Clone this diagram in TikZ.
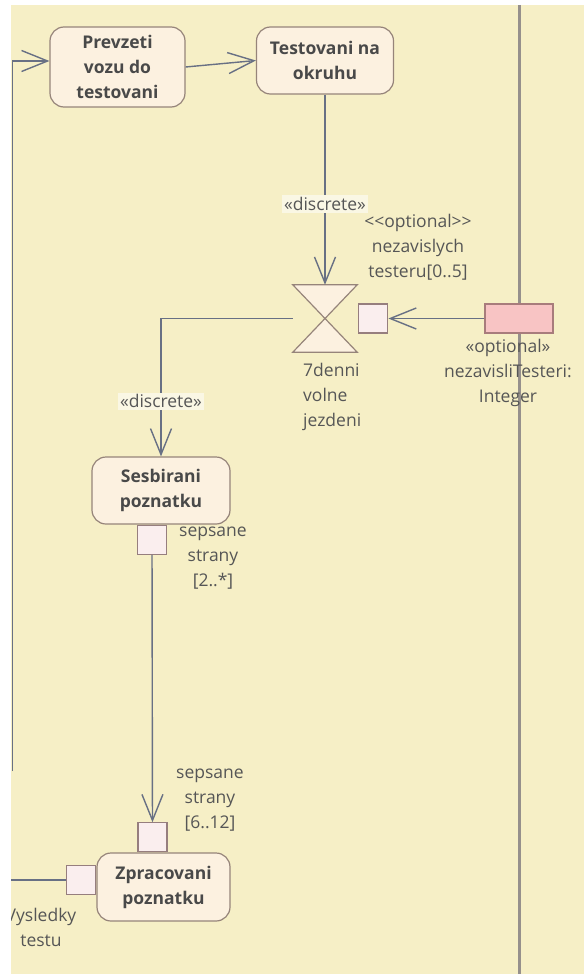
\documentclass[tikz,border=0pt]{standalone}
\usepackage{fontspec}
\setmainfont{Open Sans}
\usepackage{xcolor}
\usetikzlibrary{arrows.meta, positioning}

\definecolor{lanebg}{RGB}{246,239,198}
\definecolor{laneline}{RGB}{150,144,140}
\definecolor{actfill}{RGB}{252,241,224}
\definecolor{actedge}{RGB}{150,132,122}
\definecolor{pinfill}{RGB}{250,238,238}
\definecolor{pinedge}{RGB}{150,126,126}
\definecolor{storefill}{RGB}{248,196,196}
\definecolor{storeedge}{RGB}{168,124,124}
\definecolor{flowgray}{RGB}{104,112,132}
\definecolor{textgray}{RGB}{86,86,86}
\definecolor{stereobg}{RGB}{250,247,228}

\begin{document}
\begin{tikzpicture}[
    x=1pt, y=-1pt,
    font=\fontsize{17.5}{25}\selectfont, text=textgray,
    action/.style={rectangle, draw=actedge, line width=1.2pt, rounded corners=14pt, fill=actfill, align=center, inner sep=0pt, font=\fontsize{17.5}{25}\selectfont\bfseries, text=textgray!85!black},
    pinbox/.style={rectangle, draw=pinedge, line width=1.2pt, fill=pinfill, minimum size=29pt, inner sep=0pt},
    arrow/.style={draw=flowgray, line width=1.4pt, -{Straight Barb[length=26pt, width=21pt]}},
    plain/.style={draw=flowgray, line width=1.4pt},
    lbl/.style={align=center, inner sep=0pt},
    stereo/.style={fill=stereobg, inner sep=2pt}
]
\useasboundingbox (0,0) rectangle (584,974);
\fill[lanebg] (11,5) rectangle (584,974);
\begin{scope}
\clip (11,5) rectangle (584,974);
\draw[laneline, line width=3pt] (519,5) -- (519,974);

% actions
\node[action, minimum width=135pt, minimum height=80pt] (prev) at (117.5,67) {Prevzeti\\vozu do\\testovani};
\node[action, minimum width=137pt, minimum height=67pt] (test) at (325,60.5) {Testovani na\\okruhu};
\node[action, minimum width=138pt, minimum height=67pt] (ses) at (161,490.5) {Sesbirani\\poznatku};
\node[action, minimum width=133pt, minimum height=68pt] (zpr) at (163.5,887) {Zpracovani\\poznatku};

% time event
\node[minimum width=64pt, minimum height=67pt, inner sep=0pt] (wait) at (325,318.5) {};
\filldraw[draw=actedge, fill=actfill, line width=1.2pt] (wait.north west) -- (wait.north east) -- (wait.south west) -- (wait.south east) -- cycle;

% pins and object
\node[pinbox, right=1pt of wait] (optin) {};
\node[rectangle, draw=storeedge, fill=storefill, line width=1.2pt, minimum width=68pt, minimum height=29pt] (store) at (519,318.5) {};
\node[pinbox, anchor=north] (sesout) at ([xshift=-9pt]ses.south) {};
\node[pinbox, anchor=south] (zprin) at ([xshift=-11pt]zpr.north) {};
\node[pinbox, anchor=east] (vysin) at ([yshift=7pt]zpr.west) {};

\coordinate (lbot) at (12.5,771);
\coordinate (vysend) at (11,880);

% flows
\draw[arrow] (prev.east) -- (test.west);
\draw[arrow] (test.south) -- node[stereo, pos=0.576] {«discrete»} (wait.north);
\draw[arrow] (wait.west) -| node[stereo, pos=0.8] {«discrete»} (ses.north);
\draw[arrow] (store.west) -- (optin.east);
\draw[arrow] (sesout) -- (zprin);
\draw[arrow] (lbot) |- ([yshift=6pt]prev.west);
\draw[plain] (vysend) -- (vysin.west);

% labels
\node[lbl] (optlbl) at (418,247) {<{}<optional>{}>\\nezavislych\\testeru[0..5]};
\node[lbl, align=left, anchor=west] (waitlbl) at (303,397) {7denni\\volne\\jezdeni};
\node[lbl] (storelbl) at (508,373) {«optional»\\nezavisliTesteri:\\Integer};
\node[lbl] (seslbl) at (213,558) {sepsane\\strany\\{[2..*]}};
\node[lbl] (zprlbl) at (210,800) {sepsane\\strany\\{[6..12]}};
\node[lbl] (vyslbl) at (41,927) {Vysledky\\testu};
\end{scope}
\end{tikzpicture}
\end{document}
